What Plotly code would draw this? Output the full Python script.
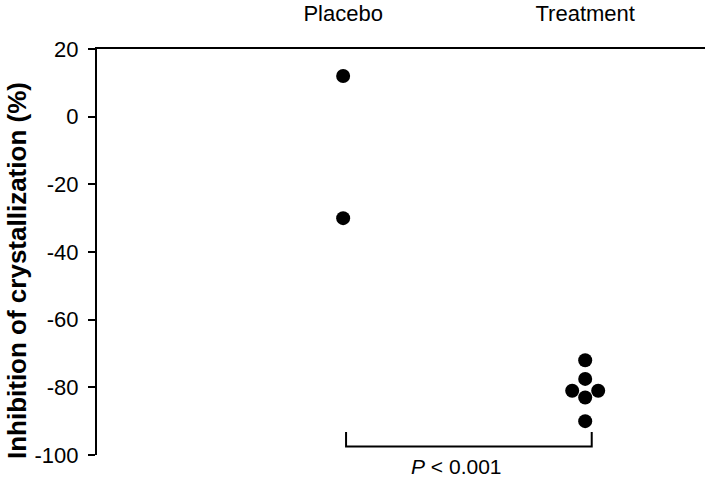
import plotly.graph_objects as go

groups = ['Placebo', 'Treatment']
placebo = [12, -30]
treatment = [-72, -77.5, -81, -81, -83, -90]
y_ticks = [20, 0, -20, -40, -60, -80, -100]
y_ticktext = ['20', '0', '-20', '-40', '-60', '-80', '-100']
p_text = '<i>P</i> < 0.001'

FONT = 'Liberation Sans, Arial, sans-serif'
W, H = 709, 483
M = dict(l=97, r=4, t=49, b=28)
XR = [-1.017, 1.495]
YR = [-100, 20]
DOT = 14


def swarm(vals, center):
    # simple beeswarm: place points one by one, push sideways on overlap
    px_x = (W - M['l'] - M['r']) / (XR[1] - XR[0])
    px_y = (H - M['t'] - M['b']) / (YR[1] - YR[0])
    step = 13
    placed = []
    for v in sorted(vals, reverse=True):
        for k in [0, -1, 1, -2, 2, -3, 3]:
            ok = all(((k * step - ox) ** 2 + ((v - oy) * px_y) ** 2) ** 0.5 >= 13.5
                     for ox, oy in placed)
            if ok:
                placed.append((k * step, v))
                break
    return [center + ox / px_x for ox, _ in placed], [oy for _, oy in placed]


fig = go.Figure()
for i, vals in enumerate([placebo, treatment]):
    xs, ys = swarm(vals, i)
    fig.add_trace(go.Scatter(x=xs, y=ys, mode='markers',
                             marker=dict(size=DOT, color='black'),
                             showlegend=False, cliponaxis=False))

# significance bracket
fig.add_shape(type='path', xref='x', yref='y',
              path='M 0.012,-93.2 L 0.012,-97.5 L 1.027,-97.5 L 1.027,-93.2',
              line=dict(color='black', width=2))
fig.add_annotation(x=0.47, y=-100, xref='x', yref='y', text=p_text,
                   showarrow=False, yanchor='middle', yshift=-11,
                   font=dict(family=FONT, size=21, color='black'))

fig.add_annotation(x=0, y=0.453, xref='paper', yref='paper', xshift=-80,
                   xanchor='center', yanchor='middle',
                   text='<b>Inhibition of crystallization (%)</b>', textangle=-90,
                   showarrow=False, font=dict(family=FONT, size=26, color='black'))

fig.update_xaxes(range=XR, side='top', tickvals=[0, 1], ticktext=groups,
                 showline=True, linecolor='black', linewidth=2, ticks='',
                 showgrid=False, zeroline=False, ticklabelstandoff=17, automargin=False,
                 tickfont=dict(family=FONT, size=22, color='black'))
fig.update_yaxes(range=YR, tickvals=y_ticks, ticktext=y_ticktext, ticks='outside',
                 ticklen=7, tickwidth=2, tickcolor='black', showline=True,
                 linecolor='black', linewidth=2, showgrid=False, zeroline=False,
                 ticklabelstandoff=5, automargin=False,
                 tickfont=dict(family=FONT, size=22, color='black'))
fig.update_layout(width=W, height=H, margin=M, plot_bgcolor='white',
                  paper_bgcolor='white')

fig.write_html('out.html', config={'displayModeBar': False},
               post_script="document.body.style.margin='0';")
